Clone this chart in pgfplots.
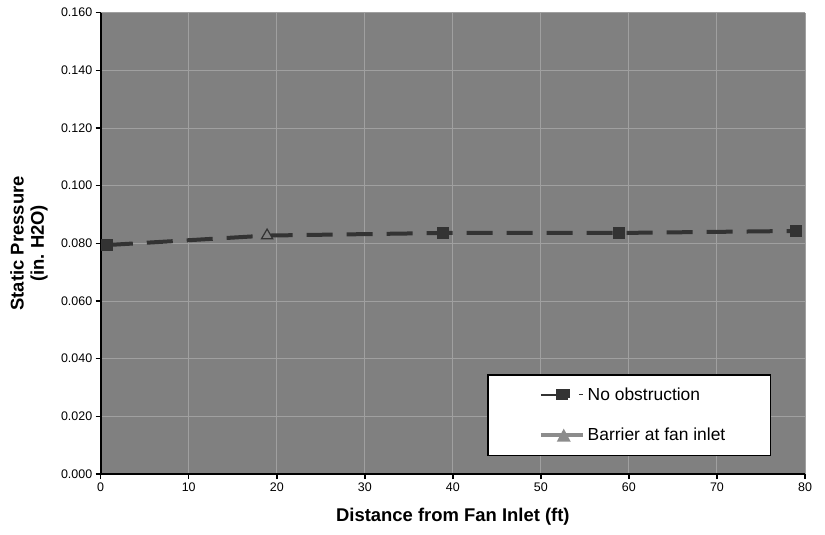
\documentclass[border=0pt]{standalone}
\usepackage{pgfplots}
\pgfplotsset{compat=1.18}
\usepackage{fontspec}
\setmainfont{Liberation Sans}
\definecolor{bg}{RGB}{128,128,128}
\definecolor{gridc}{RGB}{160,160,160}
\definecolor{dk}{RGB}{51,51,51}
\definecolor{lg}{RGB}{140,140,140}
\begin{document}
\begin{tikzpicture}
\useasboundingbox (0,0) rectangle (825bp,535bp);
\begin{axis}[
  at={(100.7bp,61bp)}, anchor=south west, scale only axis,
  width=704.3bp, height=461.3bp,
  xmin=0, xmax=80, ymin=0, ymax=0.16,
  xtick={0,10,20,30,40,50,60,70,80},
  ytick={0,0.02,0.04,0.06,0.08,0.10,0.12,0.14,0.16},
  axis background/.style={fill=bg},
  axis x line*=bottom, axis y line*=left,
  axis line style={line width=2bp, black, -},
  grid=major, major grid style={gridc, line width=1bp},
  tick align=outside, major tick length=5bp,
  tick style={black, line width=1.5bp},
  /pgf/number format/assume math mode=true,
  tick label style={font=\fontsize{12.5}{14}\selectfont},
  yticklabel style={/pgf/number format/.cd, fixed, fixed zerofill, precision=3},
  xticklabel style={/pgf/number format/.cd, fixed, precision=0},
  scaled y ticks=false,
  xlabel={Distance from Fan Inlet (ft)},
  ylabel={Static Pressure\\(in.\ H2O)},
  label style={font=\bfseries\fontsize{18.5}{20.5}\selectfont},
  xlabel style={at={(axis description cs:0.5,-0.092)}, anchor=center},
  ylabel style={at={(axis description cs:-0.1018,0.5)}, anchor=center, align=center},
  legend style={at={(axis description cs:0.5485,0.039)}, anchor=south west,
    draw=black, line width=1.5bp, fill=white, inner xsep=51bp, inner ysep=11bp,
    row sep=22bp, column sep=1bp,
    font=\fontsize{17.5}{20}\selectfont},
  legend cell align=left,
]
\addplot[dk, line width=4bp, dash pattern=on 26bp off 14bp,
  mark=square*, mark size=5.3bp, mark indices={1,3,4,5},
  mark options={solid, fill=dk, draw=dk, line width=1bp},
  legend image code/.code={
    \draw[dk, line width=1.5bp, solid] (0bp,0bp) -- (17bp,0bp);
    \fill[dk] (17bp,-4.5bp) rectangle (27bp,4.5bp);
    \draw[dk, line width=1bp, solid] (38bp,1bp) -- (42bp,1bp);
  }]
  coordinates {(0.7,0.0794) (18.9,0.0827) (38.9,0.0836) (58.9,0.0836) (79.0,0.0843)};
\addlegendentry{\makebox[130bp][l]{No obstruction}}
\addplot[draw=none, mark=triangle*, mark size=6.5bp, mark indices={2},
  mark options={solid, fill=bg, draw=dk, line width=1.2bp},
  legend image code/.code={
    \draw[lg, line width=4bp, solid] (0bp,0bp) -- (42bp,0bp);
    \fill[lg] (16bp,-6.5bp) -- (30bp,-6.5bp) -- (23bp,6.5bp) -- cycle;
  }]
  coordinates {(0.7,0.0794) (18.9,0.0827) (38.9,0.0836) (58.9,0.0836) (79.0,0.0843)};
\addlegendentry{\makebox[130bp][l]{Barrier at fan inlet}}
\end{axis}
\end{tikzpicture}
\end{document}
